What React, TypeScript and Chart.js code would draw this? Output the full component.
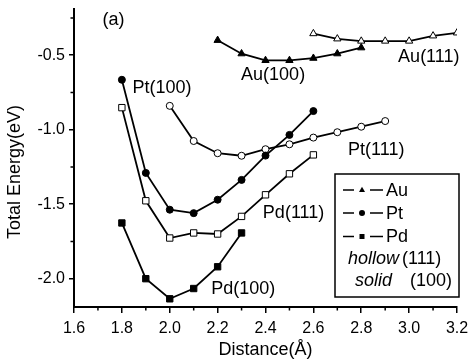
import React, { useEffect, useRef } from "react";
import { Chart, registerables } from "chart.js";

Chart.register(...registerables);

// ---- data ----
const au100X = [2.2, 2.3, 2.4, 2.5, 2.6, 2.7, 2.8];
const au100Y = [-0.4, -0.49, -0.535, -0.535, -0.52, -0.49, -0.45];
const au111X = [2.6, 2.7, 2.8, 2.9, 3.0, 3.1, 3.2];
const au111Y = [-0.355, -0.39, -0.405, -0.405, -0.405, -0.37, -0.35];
const pt100X = [1.8, 1.9, 2.0, 2.1, 2.2, 2.3, 2.4, 2.5, 2.6];
const pt100Y = [-0.665, -1.29, -1.537, -1.56, -1.47, -1.337, -1.174, -1.035, -0.875];
const pt111X = [2.0, 2.1, 2.2, 2.3, 2.4, 2.5, 2.6, 2.7, 2.8, 2.9];
const pt111Y = [-0.84, -1.076, -1.158, -1.175, -1.131, -1.098, -1.053, -1.017, -0.98, -0.942];
const pd100X = [1.8, 1.9, 2.0, 2.1, 2.2, 2.3];
const pd100Y = [-1.626, -2.0, -2.135, -2.066, -1.92, -1.693];
const pd111X = [1.8, 1.9, 2.0, 2.1, 2.2, 2.3, 2.4, 2.5, 2.6];
const pd111Y = [-0.852, -1.477, -1.727, -1.693, -1.7, -1.582, -1.437, -1.296, -1.169];

const xMajorTicks = [1.6, 1.8, 2.0, 2.2, 2.4, 2.6, 2.8, 3.0, 3.2];
const xMinorTicks = [1.7, 1.9, 2.1, 2.3, 2.5, 2.7, 2.9, 3.1];
const yMajorTicks = [-2.0, -1.5, -1.0, -0.5];
const yMinorTicks = [-1.75, -1.25, -0.75, -0.25];

const annotationTexts = ["Pt(100)", "Au(100)", "Au(111)", "Pt(111)", "Pd(111)", "Pd(100)", "(a)"];
const annotationX = [1.844, 2.298, 2.954, 2.745, 2.389, 2.173, 1.719];
const annotationY = [-0.723, -0.632, -0.511, -1.136, -1.558, -2.069, -0.266];

const legendNames = ["Au", "Pt", "Pd"];
const legendShapes = ["triangle", "circle", "rect"];

const xTitle = "Distance(Å)";
const yTitle = "Total Energy(eV)";

const FONT = "'Liberation Sans', Arial, Helvetica, sans-serif";

function toPoints(xs: number[], ys: number[]) {
  return xs.map((x, i) => ({ x, y: ys[i] }));
}

function drawMarker(ctx: CanvasRenderingContext2D, shape: string, x: number, y: number, r: number) {
  ctx.beginPath();
  if (shape === "triangle") {
    ctx.moveTo(x, y - r * 1.1);
    ctx.lineTo(x + r, y + r * 0.7);
    ctx.lineTo(x - r, y + r * 0.7);
    ctx.closePath();
  } else if (shape === "circle") {
    ctx.arc(x, y, r, 0, Math.PI * 2);
  } else {
    ctx.rect(x - r, y - r, r * 2, r * 2);
  }
  ctx.fill();
}

const decorPlugin = {
  id: "decor",
  afterDraw(chart: any) {
    const ctx: CanvasRenderingContext2D = chart.ctx;
    const xs = chart.scales.x;
    const ys = chart.scales.y;
    const area = chart.chartArea;
    ctx.save();
    ctx.strokeStyle = "#000";
    ctx.fillStyle = "#000";
    // minor ticks
    ctx.lineWidth = 1.5;
    ctx.beginPath();
    xMinorTicks.forEach((v) => {
      const px = xs.getPixelForValue(v);
      ctx.moveTo(px, area.bottom);
      ctx.lineTo(px, area.bottom + 3.5);
    });
    yMinorTicks.forEach((v) => {
      const py = ys.getPixelForValue(v);
      ctx.moveTo(area.left, py);
      ctx.lineTo(area.left - 3.5, py);
    });
    ctx.stroke();

    // annotations
    ctx.font = `18px ${FONT}`;
    ctx.textAlign = "left";
    ctx.textBaseline = "middle";
    annotationTexts.forEach((t, i) => {
      ctx.fillText(t, xs.getPixelForValue(annotationX[i]), ys.getPixelForValue(annotationY[i]));
    });

    // axis titles
    ctx.textAlign = "center";
    ctx.fillText(xTitle, (area.left + area.right) / 2, 350);
    ctx.save();
    ctx.translate(15, 172);
    ctx.rotate(-Math.PI / 2);
    ctx.fillText(yTitle, 0, 0);
    ctx.restore();

    // legend box
    const bw = 124;
    const bh = 123;
    const bl = area.right + 2 - bw;
    const bt = area.bottom - 10 - bh;
    ctx.fillStyle = "#fff";
    ctx.fillRect(bl, bt, bw, bh);
    ctx.lineWidth = 1.5;
    ctx.strokeRect(bl, bt, bw, bh);
    ctx.fillStyle = "#000";
    const rowY = [16, 39, 62.5];
    legendNames.forEach((name, i) => {
      const y = bt + rowY[i];
      ctx.lineWidth = 1.5;
      ctx.beginPath();
      ctx.moveTo(bl + 8, y);
      ctx.lineTo(bl + 19, y);
      ctx.moveTo(bl + 35, y);
      ctx.lineTo(bl + 48, y);
      ctx.stroke();
      drawMarker(ctx, legendShapes[i], bl + 27, y, legendShapes[i] === "rect" ? 2.5 : 3);
      ctx.textAlign = "left";
      ctx.font = `18px ${FONT}`;
      ctx.fillText(name, bl + 51, y + 1);
    });
    ctx.textAlign = "left";
    ctx.font = `italic 18px ${FONT}`;
    ctx.fillText("hollow", bl + 13, bt + 85);
    ctx.font = `18px ${FONT}`;
    ctx.fillText("(111)", bl + 67, bt + 85);
    ctx.font = `italic 18px ${FONT}`;
    ctx.fillText("solid", bl + 20, bt + 107);
    ctx.font = `18px ${FONT}`;
    ctx.fillText("(100)", bl + 75, bt + 107);
    ctx.restore();
  },
};

function makeDataset(xs: number[], ys: number[], shape: string, filled: boolean, radius: number) {
  return {
    data: toPoints(xs, ys),
    borderColor: "#000",
    borderWidth: 1.8,
    pointStyle: shape,
    pointRadius: radius,
    pointBorderWidth: 1,
    pointBorderColor: "#000",
    pointBackgroundColor: filled ? "#000" : "#fff",
    fill: false,
    tension: 0,
    clip: 0,
  };
}

export default function App() {
  const ref = useRef<HTMLCanvasElement | null>(null);
  useEffect(() => {
    if (!ref.current) return;
    const chart = new Chart(ref.current, {
      type: "line",
      data: {
        datasets: [
          makeDataset(au100X, au100Y, "triangle", true, 4.2),
          makeDataset(au111X, au111Y, "triangle", false, 4.2),
          makeDataset(pt100X, pt100Y, "circle", true, 3.5),
          makeDataset(pt111X, pt111Y, "circle", false, 3.5),
          makeDataset(pd100X, pd100Y, "rect", true, 4.5),
          makeDataset(pd111X, pd111Y, "rect", false, 4.5),
        ] as any,
      },
      options: {
        animation: false,
        responsive: false,
        devicePixelRatio: 1,
        layout: { padding: { top: 9, right: 13, left: 0, bottom: 0 } },
        plugins: {
          legend: { display: false },
          tooltip: { enabled: false },
          title: { display: false },
        },
        scales: {
          x: {
            type: "linear",
            min: 1.6,
            max: 3.2,
            afterBuildTicks: (s: any) => {
              s.ticks = xMajorTicks.map((v) => ({ value: v }));
            },
            afterFit: (s: any) => {
              s.height = 53;
              s.paddingLeft = 0;
              s.paddingRight = 0;
            },
            ticks: {
              font: { size: 16, family: FONT },
              color: "#000",
              padding: 6,
              maxRotation: 0,
              autoSkip: false,
              callback: (v: any) => Number(v).toFixed(1),
            },
            grid: {
              display: true,
              drawOnChartArea: false,
              drawTicks: true,
              tickLength: 6,
              color: "#000",
              lineWidth: 1.5,
            },
            border: { display: true, color: "#000", width: 2 },
          },
          y: {
            type: "linear",
            min: -2.19,
            max: -0.19,
            afterBuildTicks: (s: any) => {
              s.ticks = yMajorTicks.map((v) => ({ value: v }));
            },
            afterFit: (s: any) => {
              s.width = 74;
              s.paddingTop = 0;
              s.paddingBottom = 0;
            },
            ticks: {
              font: { size: 16, family: FONT },
              color: "#000",
              padding: 4,
              autoSkip: false,
              callback: (v: any) => Number(v).toFixed(1),
            },
            grid: {
              display: true,
              drawOnChartArea: false,
              drawTicks: true,
              tickLength: 5,
              color: "#000",
              lineWidth: 1.5,
            },
            border: { display: true, color: "#000", width: 2 },
          },
        },
      },
      plugins: [decorPlugin],
    });
    return () => chart.destroy();
  }, []);
  return (
    <div style={{ position: "absolute", left: 0, top: 0, width: 470, height: 360, background: "#fff" }}>
      <canvas ref={ref} width={470} height={360} />
    </div>
  );
}
